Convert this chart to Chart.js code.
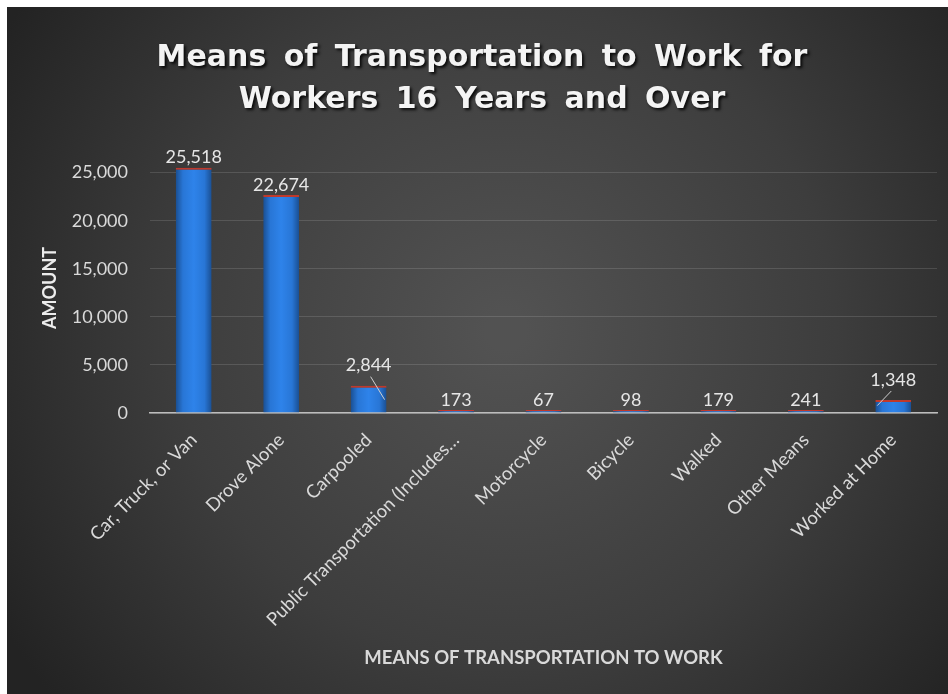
<!DOCTYPE html>
<html>
<head>
<meta charset="utf-8">
<script src="https://cdn.jsdelivr.net/npm/chart.js@4/dist/chart.umd.min.js"></script>
<style>
  html, body { margin: 0; padding: 0; background: #ffffff; }
  #wrap { position: absolute; left: 7px; top: 7px; width: 941px; height: 687px; }
</style>
</head>
<body>
<div id="wrap"><canvas id="c"></canvas></div>
<script>
// ---- data ----
const categories = [
  "Car, Truck, or Van",
  "Drove Alone",
  "Carpooled",
  "Public Transportation (Includes\u2026",
  "Motorcycle",
  "Bicycle",
  "Walked",
  "Other Means",
  "Worked at Home"
];
const amounts = [25518, 22674, 2844, 173, 67, 98, 179, 241, 1348];
const yTickValues = [0, 5000, 10000, 15000, 20000, 25000];
const titleLines = ["Means of Transportation to Work for", "Workers 16 Years and Over"];
const yAxisTitle = "AMOUNT";
const xAxisTitle = "MEANS OF TRANSPORTATION TO WORK";

const BASE_FONT = "Lato, 'Open Sans', sans-serif";

function barGradient(context) {
  const el = context.element;
  const chart = context.chart;
  if (!el || !isFinite(el.x) || !el.width) return '#2b7fe0';
  const g = chart.ctx.createLinearGradient(el.x - el.width / 2, 0, el.x + el.width / 2, 0);
  g.addColorStop(0, '#1a4f92');
  g.addColorStop(0.2, '#2876d6');
  g.addColorStop(0.5, '#2e83ea');
  g.addColorStop(0.8, '#2876d6');
  g.addColorStop(1, '#1a4f92');
  return g;
}

const bgPlugin = {
  id: 'bg',
  beforeDraw(chart) {
    const { ctx, width, height } = chart;
    ctx.save();
    const g = ctx.createRadialGradient(width * 0.53, height * 0.47, 20, width * 0.53, height * 0.47, width * 0.62);
    g.addColorStop(0, '#525252');
    g.addColorStop(0.55, '#3d3d3d');
    g.addColorStop(1, '#232323');
    ctx.fillStyle = g;
    ctx.fillRect(0, 0, width, height);
    ctx.restore();
  }
};

const titlePlugin = {
  id: 'bigTitle',
  afterDraw(chart, args, opts) {
    const { ctx } = chart;
    ctx.save();
    ctx.font = "bold 30px 'DejaVu Sans', Verdana, sans-serif";
    ctx.textAlign = 'center';
    ctx.textBaseline = 'middle';
    try { ctx.wordSpacing = '7px'; } catch (e) {}
    ctx.shadowColor = 'rgba(0,0,0,0.85)';
    ctx.shadowOffsetX = 2;
    ctx.shadowOffsetY = 2;
    ctx.shadowBlur = 3;
    ctx.fillStyle = '#f4f4f4';
    const cx = opts.x;
    titleLines.forEach((t, i) => ctx.fillText(t, cx, opts.y0 + i * opts.dy));
    ctx.restore();
  }
};

const labelPlugin = {
  id: 'valLabels',
  afterDatasetsDraw(chart, args, opts) {
    const { ctx } = chart;
    const meta = chart.getDatasetMeta(0);
    ctx.save();
    ctx.font = "18px " + BASE_FONT;
    ctx.fillStyle = '#e6e6e6';
    ctx.textAlign = 'center';
    ctx.textBaseline = 'bottom';
    meta.data.forEach((bar, i) => {
      const v = chart.data.datasets[0].data[i];
      const lift = (opts.extraLift[i] || 0);
      const y = bar.y - 1 - lift;
      ctx.fillText(v.toLocaleString('en-US'), bar.x, y);
      if (lift > 0) {
        ctx.strokeStyle = '#d0d0d0';
        ctx.lineWidth = 1;
        ctx.beginPath();
        const dir = opts.leaderDir[i] || 1;
        ctx.moveTo(bar.x + dir * 2, y + 2);
        ctx.lineTo(bar.x + dir * 16, bar.y + 14 * (dir > 0 ? 1 : 0.4));
        ctx.stroke();
      }
    });
    ctx.restore();
  }
};

const chart = new Chart(document.getElementById('c'), {
  type: 'bar',
  data: {
    labels: categories,
    datasets: [{
      data: amounts,
      backgroundColor: barGradient,
      borderColor: '#c0392b',
      borderWidth: { top: 2, left: 0, right: 0, bottom: 0 },
      borderSkipped: 'bottom',
      barPercentage: 0.41,
      categoryPercentage: 1.0,
      minBarLength: 3
    }]
  },
  options: {
    responsive: true,
    maintainAspectRatio: false,
    animation: false,
    devicePixelRatio: 1,
    layout: { padding: { left: 0, right: 11, top: 156, bottom: 0 } },
    plugins: {
      legend: { display: false },
      tooltip: { enabled: false },
      bigTitle: { x: 475, y0: 51, dy: 42 },
      valLabels: { extraLift: { 2: 10, 8: 10 }, leaderDir: { 2: 1, 8: -1 } }
    },
    scales: {
      x: {
        grid: { display: false, drawTicks: false },
        border: { display: true, color: '#bdbdbd', width: 1.5 },
        ticks: {
          color: '#d9d9d9',
          font: { family: BASE_FONT, size: 18.5 },
          maxRotation: 45,
          minRotation: 45,
          autoSkip: false,
          padding: 16
        },
        title: {
          display: true,
          text: xAxisTitle,
          color: '#d9d9d9',
          font: { family: BASE_FONT, size: 18.5, weight: 'bold' },
          padding: { top: 0, bottom: 25 }
        },
        afterFit(scale) { scale.height = 281; }
      },
      y: {
        min: 0,
        max: 26000,
        grid: { color: 'rgba(255,255,255,0.13)', drawTicks: false },
        border: { display: false },
        ticks: {
          stepSize: 5000,
          color: '#d9d9d9',
          font: { family: BASE_FONT, size: 18 },
          padding: 22,
          callback: (v) => v.toLocaleString('en-US')
        },
        afterBuildTicks(scale) {
          scale.ticks = yTickValues.map(v => ({ value: v }));
        },
        title: {
          display: true,
          text: yAxisTitle,
          color: '#ececec',
          font: { family: BASE_FONT, size: 18, weight: 'bold' },
          padding: { top: 32, bottom: 0 }
        },
        afterFit(scale) { scale.width = 143; }
      }
    }
  },
  plugins: [bgPlugin, titlePlugin, labelPlugin]
});
chart.update();
</script>
</body>
</html>
